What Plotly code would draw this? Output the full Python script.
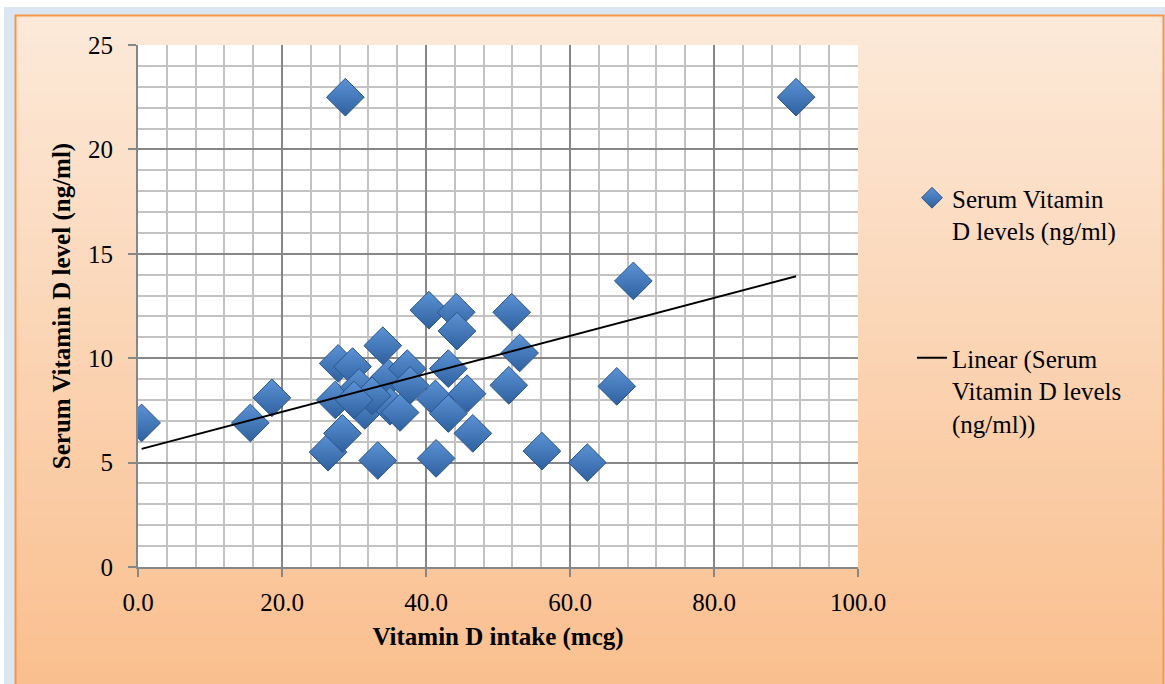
import numpy as np
import plotly.graph_objects as go

# ---- data ----
vitamin_d_intake = [0.5, 15.6, 18.6, 26.4, 28.4, 27.4, 27.8, 29.8, 30.7, 31.5,
                    33.3, 34.0, 34.8, 35.0, 36.4, 37.4, 37.8, 28.8, 40.4, 44.2,
                    44.3, 43.1, 41.3, 45.7, 43.1, 46.5, 41.4, 51.9, 53.0, 51.5,
                    56.1, 62.4, 66.5, 68.8, 91.4, 32.5, 30.0]
serum_vitamin_d = [6.9, 6.9, 8.1, 5.5, 6.4, 8.0, 9.75, 9.6, 8.6, 7.5,
                   5.1, 10.6, 9.05, 7.7, 7.4, 9.5, 8.7, 22.5, 12.3, 12.2,
                   11.3, 9.5, 8.05, 8.3, 7.35, 6.4, 5.2, 12.2, 10.25, 8.7,
                   5.55, 5.0, 8.65, 13.7, 22.5, 8.2, 8.0]

series_name = "Serum Vitamin<br>D levels (ng/ml)"
trend_name = "Linear (Serum<br>Vitamin D levels<br>(ng/ml))"
x_title = "Vitamin D intake (mcg)"
y_title = "Serum Vitamin D level (ng/ml)"

# linear trendline fitted from the data
xs = np.array(vitamin_d_intake)
ys = np.array(serum_vitamin_d)
slope, intercept = np.polyfit(xs, ys, 1)
trend_x = [xs.min(), xs.max()]
trend_y = [intercept + slope * v for v in trend_x]

FONT = "Liberation Serif, Times New Roman, serif"

W, H = 1165, 684
L, R, T, B = 138, 307, 45, 117
PW, PH = W - L - R, H - T - B


def px_to_paper_x(px):
    return (px - L) / PW


def px_to_paper_y(py):
    return (H - B - py) / PH


fig = go.Figure()
fig.add_trace(go.Scatter(
    x=vitamin_d_intake, y=serum_vitamin_d, mode="markers", name=series_name,
    legendgroup="a",
    marker=dict(symbol="diamond", size=29, color="#5B93D6",
                gradient=dict(type="vertical", color="#2F609E"),
                line=dict(color="#2C5487", width=1)),
))
fig.add_trace(go.Scatter(
    x=trend_x, y=trend_y, mode="lines", name=trend_name, legendgroup="b",
    line=dict(color="black", width=2),
))

shapes = []
# light blue outer band (white hairline at the very top/left)
shapes.append(dict(type="rect", xref="paper", yref="paper",
                   x0=px_to_paper_x(4), x1=px_to_paper_x(1170),
                   y0=px_to_paper_y(700), y1=px_to_paper_y(7),
                   fillcolor="#DCE6F2", line=dict(width=0), layer="below"))
# background gradient made of horizontal stripes
top_c = np.array([0xFD, 0xEA, 0xDA])
bot_c = np.array([0xFA, 0xBF, 0x8E])
y_top, y_bot = 15, 690
n = 70
for i in range(n):
    t = (i + 0.5) / n
    c = (top_c * (1 - t) + bot_c * t).astype(int)
    py0 = y_top + (y_bot - y_top) * i / n
    py1 = y_top + (y_bot - y_top) * (i + 1) / n + 0.6
    shapes.append(dict(type="rect", xref="paper", yref="paper",
                       x0=px_to_paper_x(15), x1=px_to_paper_x(1164),
                       y0=px_to_paper_y(py1), y1=px_to_paper_y(py0),
                       fillcolor="rgb(%d,%d,%d)" % tuple(c), line=dict(width=0),
                       layer="below"))
# plot area
shapes.append(dict(type="rect", xref="paper", yref="paper", x0=0, x1=1, y0=0, y1=1,
                   fillcolor="white", line=dict(width=0), layer="below"))
# orange frame
shapes.append(dict(type="rect", xref="paper", yref="paper",
                   x0=px_to_paper_x(15.5), x1=px_to_paper_x(1163.5),
                   y0=px_to_paper_y(690), y1=px_to_paper_y(15.5),
                   fillcolor="rgba(0,0,0,0)", line=dict(color="#F79646", width=2),
                   layer="below"))

fig.update_layout(
    width=W, height=H,
    margin=dict(l=L, r=R, t=T, b=B, autoexpand=False),
    paper_bgcolor="white",
    plot_bgcolor="white",
    font=dict(family=FONT, size=25, color="black"),
    shapes=shapes,
    showlegend=True,
    legend=dict(x=px_to_paper_x(912), y=px_to_paper_y(175), xanchor="left", yanchor="top",
                bgcolor="rgba(0,0,0,0)", font=dict(family=FONT, size=25, color="black"),
                valign="top", tracegroupgap=92, itemwidth=30),
    xaxis=dict(range=[0, 100], dtick=20, tickformat=".1f", showgrid=True,
               gridcolor="#878787", gridwidth=2,
               minor=dict(dtick=4, showgrid=True, gridcolor="#C3C3C3", gridwidth=2),
               showline=True, linecolor="#878787", linewidth=2,
               ticks="outside", ticklen=8, tickwidth=2, tickcolor="#878787",
               zeroline=False, automargin=False, ticklabelstandoff=4,
               title=dict(text="<b>%s</b>" % x_title, standoff=12,
                          font=dict(family=FONT, size=25))),
    yaxis=dict(range=[0, 25], dtick=5, showgrid=True,
               gridcolor="#878787", gridwidth=2,
               minor=dict(dtick=1, showgrid=True, gridcolor="#C3C3C3", gridwidth=2),
               showline=True, linecolor="#878787", linewidth=2,
               ticks="outside", ticklen=8, tickwidth=2, tickcolor="#878787",
               zeroline=False, automargin=False, ticklabelstandoff=10,
               title=dict(text="<b>%s</b>" % y_title, standoff=10,
                          font=dict(family=FONT, size=25))),
)

fig.write_html("out.html")
